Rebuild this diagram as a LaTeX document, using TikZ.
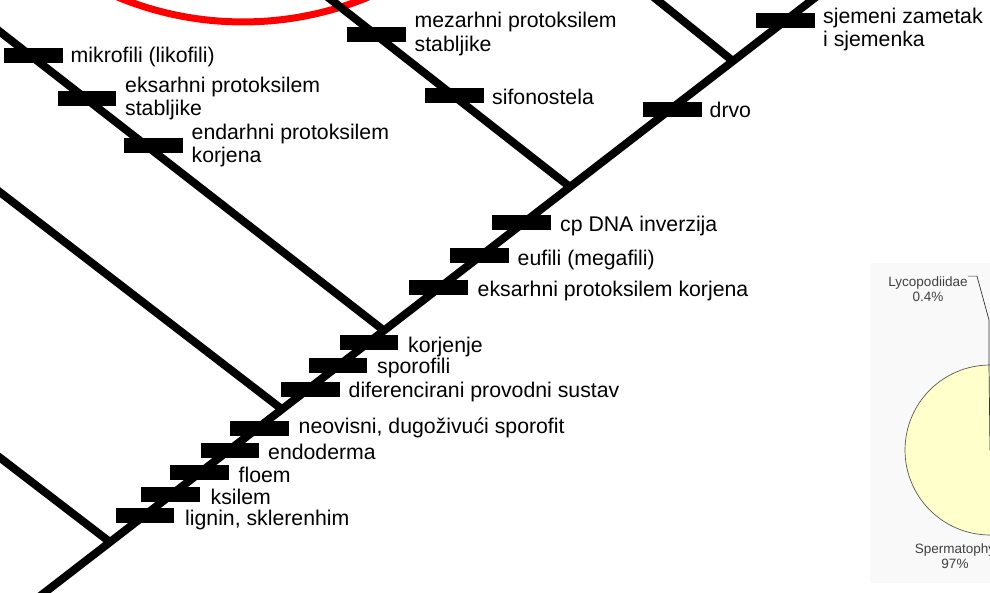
\documentclass[tikz,border=0pt]{standalone}
\usepackage{fontspec}
\setmainfont{Liberation Sans}
\usetikzlibrary{positioning}
\definecolor{pieyellow}{HTML}{FFFFCC}
\definecolor{piebg}{HTML}{F9F9F9}

\begin{document}
\begin{tikzpicture}[x=0.02cm, y=-0.02cm,
  branch/.style={line width=0.16cm},
  syn/.style={fill=black, minimum width=1.18cm, minimum height=0.3cm, inner sep=0pt},
  lbl/.style={inner sep=0pt, align=left, font=\fontsize{12.1}{13.1}\selectfont},
  pielbl/.style={inner sep=0pt, align=center, text=black!75, font=\fontsize{7.7}{8.6}\selectfont}]
  \useasboundingbox (0,0) rectangle (990,592);
  \clip (0,0) rectangle (990,592);

  % pie chart in the corner
  \fill[piebg] (870,263) rectangle (995,583);
  \node[circle, draw=black!65, fill=pieyellow, minimum size=3.4cm, inner sep=0pt] (pie) at (990,450) {};
  \coordinate (pietop) at (989,365);
  \node[pielbl] (lyco) at (928,289) {Lycopodiidae\\0.4\%};
  \node[pielbl] (sperm) at (955,556) {Spermatophy\\97\%};
  \draw[black!80, line width=0.4pt] (lyco.north east) -- ++(9,0) -- (989,320) -- (pietop) -- (pie.center);

  % red circle
  \draw[red, line width=0.14cm] (243,-305) circle[radius=6.54cm];

  % stem and branches
  \coordinate (base) at (35,600);
  \coordinate (top) at (825,-10);
  \coordinate (j1) at (110,542.1);
  \coordinate (j2) at (282,409.3);
  \coordinate (j3) at (384,330.6);
  \coordinate (j4) at (570,187);
  \coordinate (j5) at (733,61.1);
  \coordinate (t1) at (-10,450);
  \coordinate (t2) at (-10,184.5);
  \coordinate (t3) at (-10,24);
  \coordinate (t4) at (325,-5);
  \coordinate (t5) at (651,-5);
  \foreach \j/\t in {j1/t1, j2/t2, j3/t3, j4/t4, j5/t5}
    \draw[branch] (\j) -- (\t);
  \draw[branch] (base) -- (top);

  % synapomorphies
  \node[syn] (mikro) at (33.5,55.5) {};
  \node[syn] (eksS) at (87,98.5) {};
  \node[syn] (endK) at (153.5,145.5) {};
  \node[syn] (mezS) at (376.5,34) {};
  \node[syn] (sifo) at (454,95.5) {};
  \node[syn] (drvo) at (672.5,109.5) {};
  \node[syn] (sjem) at (785,20.5) {};
  \node[syn] (cpdna) at (521,222.5) {};
  \node[syn] (eufil) at (479.5,255.5) {};
  \node[syn] (eksK) at (438.5,287.5) {};
  \node[syn] (korj) at (369,342.5) {};
  \node[syn] (sporo) at (338,365.5) {};
  \node[syn] (difer) at (310.5,389.5) {};
  \node[syn] (neov) at (259.5,428) {};
  \node[syn] (endo) at (230,450) {};
  \node[syn] (floem) at (199.5,472) {};
  \node[syn] (ksil) at (170.5,494) {};
  \node[syn] (lign) at (145,515.5) {};

  \node[lbl, right=0.14cm of mikro, yshift=-0.03cm] {mikrofili (likofili)};
  \node[lbl, right=0.16cm of eksS] {eksarhni protoksilem\\stabljike};
  \node[lbl, right=0.16cm of endK] {endarhni protoksilem\\korjena};
  \node[lbl, right=0.16cm of mezS] {mezarhni protoksilem\\stabljike};
  \node[lbl, right=0.16cm of sifo, yshift=-0.03cm] {sifonostela};
  \node[lbl, right=0.14cm of drvo] {drvo};
  \node[lbl, right=0.16cm of sjem, yshift=-0.18cm] {sjemeni zametak\\i sjemenka};
  \node[lbl, right=0.18cm of cpdna, yshift=-0.07cm] {cp DNA inverzija};
  \node[lbl, right=0.16cm of eufil, yshift=-0.09cm] {eufili (megafili)};
  \node[lbl, right=0.18cm of eksK, yshift=-0.07cm] {eksarhni protoksilem korjena};
  \node[lbl, right=0.18cm of korj, yshift=-0.09cm] {korjenje};
  \node[lbl, right=0.18cm of sporo, yshift=-0.05cm] {sporofili};
  \node[lbl, right=0.16cm of difer, yshift=-0.05cm] {diferencirani provodni sustav};
  \node[lbl, right=0.18cm of neov] {neovisni, dugoživući sporofit};
  \node[lbl, right=0.16cm of endo, yshift=-0.04cm] {endoderma};
  \node[lbl, right=0.18cm of floem, yshift=-0.06cm] {floem};
  \node[lbl, right=0.2cm of ksil, yshift=-0.06cm] {ksilem};
  \node[lbl, right=0.2cm of lign, yshift=-0.09cm] {lignin, sklerenhim};
\end{tikzpicture}
\end{document}
